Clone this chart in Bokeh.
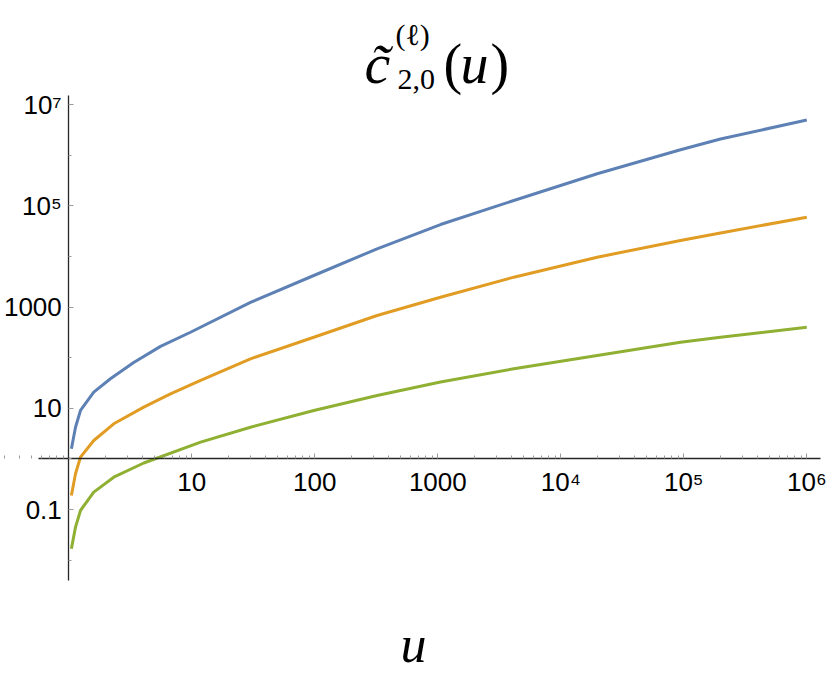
from bokeh.plotting import figure
from bokeh.models import Range1d, FixedTicker, Label
from bokeh.embed import file_html
from bokeh.resources import INLINE

# ---- data ----
u_blue = [1.05, 1.134, 1.245, 1.596, 2.18, 3.37, 5.57, 9.76, 30, 98.2, 321, 1052, 4150, 19770, 94000, 198700, 1.0e6]
c_blue = [1.6, 4.25, 9.1, 20.9, 38.5, 80.7, 168, 320, 1240, 4230, 14260, 43000, 128500, 433000, 1.29e6, 2.11e6, 5.0e6]

u_orange = [1.05, 1.134, 1.245, 1.596, 2.32, 4.07, 6.71, 11.8, 30, 98.2, 321, 1052, 4150, 19770, 94000, 198700, 1.0e6]
c_orange = [0.19, 0.51, 1.09, 2.32, 4.96, 10.6, 19.4, 35.6, 95.5, 255, 685, 1577, 3920, 9730, 20800, 29300, 60100]

u_green = [1.05, 1.134, 1.245, 1.596, 2.32, 4.07, 11.8, 30, 98.2, 321, 1052, 4150, 19770, 94000, 198700, 1.0e6]
c_green = [0.0168, 0.045, 0.096, 0.221, 0.437, 0.834, 2.15, 4.25, 9.1, 18.0, 33.2, 60.7, 111, 203, 255, 403]

x_major_ticks = [1, 10, 100, 1000, 1e4, 1e5, 1e6]
x_tick_labels = ["", "10", "100", "1000", "10\u2074", "10\u2075", "10\u2076"]
x_minor_ticks = [m * 10.0 ** k for k in range(-1, 6) for m in range(2, 10)]

y_major_ticks = [0.1, 10, 1000, 1e5, 1e7]
y_tick_labels = ["0.1", "10", "1000", "10\u2075", "10\u2077"]
y_minor_ticks = [0.01, 1, 100, 1e4, 1e6]

x_axis_extent = (0.564, 1.29e6)
y_axis_extent = (0.00397, 1.528e7)

colors = ["#5E81B5", "#E19C24", "#8FB032"]

SANS = "Arial"
SERIF = "serif"

# the frame fills the whole canvas; axes are drawn through (1, 1)
p = figure(width=830, height=674, x_axis_type="log", y_axis_type="log",
           x_range=Range1d(0.2785, 1.558e6), y_range=Range1d(5.51e-5, 1.151e9),
           output_backend="svg", toolbar_location=None,
           min_border=0, min_border_left=0, min_border_right=0,
           min_border_top=0, min_border_bottom=0)
p.outline_line_color = None
p.grid.visible = False

for ax in p.xaxis:
    ax.fixed_location = 1
    ax.bounds = x_axis_extent
    ax.ticker = FixedTicker(ticks=x_major_ticks, minor_ticks=x_minor_ticks)
    ax.major_label_overrides = dict(zip(x_major_ticks, x_tick_labels))
    ax.major_label_standoff = 8
for ax in p.yaxis:
    ax.fixed_location = 1
    ax.bounds = y_axis_extent
    ax.ticker = FixedTicker(ticks=y_major_ticks, minor_ticks=y_minor_ticks)
    ax.major_label_overrides = dict(zip(y_major_ticks, y_tick_labels))
    ax.major_label_standoff = 7

for ax in p.axis:
    ax.axis_line_color = "#262626"
    ax.axis_line_width = 1.3
    ax.major_tick_in = 5
    ax.major_tick_out = 0
    ax.minor_tick_in = 3
    ax.minor_tick_out = 0
    ax.major_tick_line_color = "#9a9a9a"
    ax.minor_tick_line_color = "#9a9a9a"
    ax.major_label_text_font = SANS
    ax.major_label_text_font_size = "26px"
    ax.major_label_text_color = "black"

for u, c, col in zip([u_blue, u_orange, u_green], [c_blue, c_orange, c_green], colors):
    p.line(u, c, line_color=col, line_width=3)

H = 674

def lab(text, x, baseline, size, style="normal"):
    p.add_layout(Label(x=x, y=H - baseline, x_units="screen", y_units="screen", text=text,
                       text_font=SERIF, text_font_size=size,
                       text_font_style=style, text_color="black",
                       text_baseline="alphabetic", text_align="left"))

# title pieces
lab("c\u0303", 364, 63, "58px", "italic")
lab("(\u2113)", 395, 34, "30px")
lab("2,0", 397, 79, "30px")
lab("(", 443, 63, "56px")
lab("u", 460, 63, "56px", "italic")
lab(")", 490, 63, "56px")
# axis label
lab("u", 400, 644, "52px", "italic")

open("out.html", "w").write(file_html(p, INLINE))
